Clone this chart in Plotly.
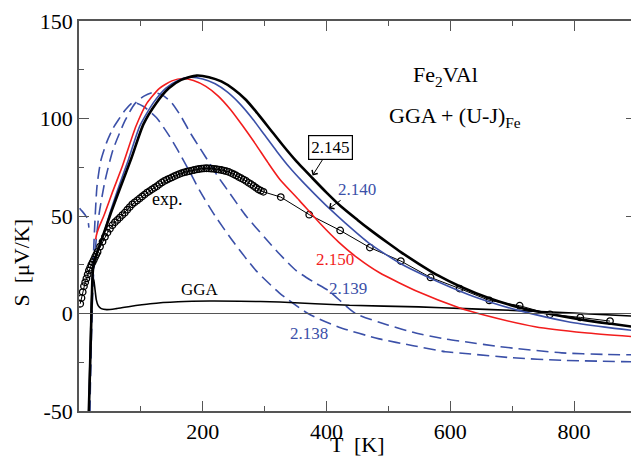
import plotly.graph_objects as go

# ---------------- data ----------------
# black thick, 2.145
T_145 = [14.5, 17, 19.5, 22, 24, 30, 40, 52, 66, 85, 104, 125, 145, 165, 190, 210, 230, 250, 270, 290, 310, 330, 350, 377, 400, 423, 450, 470, 500, 520, 549, 580, 615, 663, 710, 761, 817, 860, 900]
S_145 = [-65, -38, -8, 20, 26, 32, 41, 52, 64, 80, 97, 108, 115.5, 119.8, 122, 121.2, 119, 115, 109.5, 102, 94, 86, 78.5, 69.5, 62, 55, 48, 43, 36, 31.5, 25.5, 19.5, 14, 7.8, 3.2, -0.3, -3.4, -5.3, -7]

# blue solid, 2.140
T_140 = [14.5, 17, 19.5, 22, 24, 30, 40, 50, 62, 80, 98, 120, 140, 160, 179, 200, 220, 240, 260, 280, 300, 320, 340, 360, 380, 404, 430, 469, 520, 565, 629, 670, 710, 790, 850, 900]
S_140 = [-65, -38, -8, 20, 26, 32, 41, 51.5, 63, 79, 96, 108, 115.5, 119.5, 121.2, 120.3, 117.8, 113.5, 107.5, 100, 91.5, 83, 75, 68, 61.5, 54, 46.5, 36, 25.5, 18.5, 9.8, 5.3, 1.6, -4.2, -7, -8.9]

# red solid, 2.150
T_150 = [27, 28, 32, 40, 55, 70, 92, 110, 130, 150, 168, 185, 205, 225, 245, 265, 285, 305, 324, 356, 390, 420, 450, 485, 549, 613, 656, 737, 817, 900]
S_150 = [38, 40, 44, 50, 63, 75.5, 96, 108, 115.5, 119.3, 120.5, 119.5, 116.5, 111.5, 104.5, 96, 87, 77.5, 69, 58, 46, 36.5, 28.5, 21, 11, 3.1, -0.9, -6.8, -9.9, -12]

# blue dashed, 2.139
T_139 = [17, 19.5, 22, 25, 32, 42, 55, 74.5, 90, 105, 120, 135, 150, 165, 180, 195, 211, 225, 240.6, 270, 300, 324, 351, 380, 404, 447, 500, 544, 590, 624, 680, 780, 850, 900]
S_139 = [-60, -20, 10, 28, 50, 68, 84, 99, 107.5, 111.5, 113.4, 112, 108, 101, 92.5, 85, 77, 70, 63, 50, 39, 30.5, 22, 16, 11.5, 0, -6, -10, -13, -14.5, -17, -20.2, -21, -21.2]

# blue dashed, 2.138 (low-T hook and main branch)
T_138a = [1, 5, 10, 14, 16]
S_138a = [54, 52.5, 50.5, 48.5, 44]
T_138 = [16.5, 19, 21.5, 24, 29, 35, 45, 55, 63, 75, 88, 105, 125, 145, 160, 180, 195, 220, 250, 286, 324, 370, 420, 485, 540, 592, 624, 700, 780, 900]
S_138 = [-60, -20, 10, 35, 65, 78, 88, 95, 99, 104.5, 108.3, 106, 100.5, 91.5, 83.5, 72, 63, 50, 36.5, 22, 10.5, 0, -7, -13, -16.5, -19.6, -20.5, -22.7, -24, -24.8]

# GGA
T_gga = [15, 18, 20, 21.5, 22.5, 24, 26, 28, 31, 36, 45, 60, 80, 115, 160, 211, 260, 324, 437, 549, 624, 710, 800, 900]
S_gga = [-60, -20, 5, 15, 18.5, 17, 12, 7, 4, 2.5, 2, 2.5, 3.5, 5, 6, 6.4, 6.3, 5.9, 4.2, 3.4, 2.5, 1.5, 0.2, -1.4]

# experiment
T_exp = [2, 4, 6, 8, 10, 12, 14, 16, 18, 20, 22, 24, 26, 28, 30, 34, 38, 42, 46, 50, 54, 58, 62, 66, 70, 74, 78, 82, 86, 90,
         94, 98, 102, 106, 110, 114, 118, 122, 126, 130, 134, 138, 142, 146, 150, 154, 158, 162, 166, 170, 174, 178, 182,
         186, 190, 194, 198, 202, 206, 210, 214, 218, 222, 226, 230, 234, 238, 242, 246, 250, 254, 258, 262, 266, 270, 274,
         278, 282, 286, 290, 294, 298, 326, 372, 422, 470, 520, 568, 615, 663, 712, 761, 810, 858]
S_exp = [5, 8, 11, 14, 16, 18, 20, 22, 23.5, 25, 26.3, 27.6, 29, 30.3, 31.6, 34.3, 36.8, 39.3, 41.5, 43.5, 45.3, 46.8, 48,
         49.2, 50.5, 51.7, 53.2, 54.6, 56, 57, 58, 59, 60, 61, 62, 62.8, 63.7, 64.5, 65.3, 66.3, 67.2, 68, 68.6, 69.2, 69.8,
         70.4, 71, 71.5, 72, 72.4, 72.7, 73, 73.3, 73.6, 73.9, 74.1, 74.3, 74.4, 74.5, 74.4, 74.3, 74.2, 74, 73.8, 73.6,
         73.3, 73, 72.6, 72, 71.4, 70.8, 70, 69.4, 68.7, 68, 67, 66.3, 65.4, 64.5, 63.6, 63, 62.4,
         59.7, 50.7, 42.6, 33.8, 26.9, 18.5, 12.8, 6.7, 4.0, -0.4, -2.0, -3.9]

x_ticks = [200, 400, 600, 800]
y_ticks = [-50, 0, 50, 100, 150]

BLUE = "#3b50a8"
RED = "#f21d1d"
FONT = "Liberation Serif, Times New Roman, serif"
AXC = "#555555"

fig = go.Figure()

def line(x, y, color, width, dash="solid", smooth=0.6):
    fig.add_trace(go.Scatter(x=x, y=y, mode="lines", line=dict(color=color, width=width, dash=dash,
                                                               shape="spline", smoothing=smooth),
                             hoverinfo="skip", showlegend=False))

DASH = "12px,6px"
line(T_138a, S_138a, BLUE, 1.6, DASH)
line(T_138, S_138, BLUE, 1.6, DASH)
line(T_139, S_139, BLUE, 1.6, DASH)
line(T_gga, S_gga, "black", 1.6)
fig.add_trace(go.Scatter(x=T_exp, y=S_exp, mode="lines+markers",
                         line=dict(color="black", width=1),
                         marker=dict(symbol="circle-open", size=6.5, color="black", line=dict(width=1.3)),
                         hoverinfo="skip", showlegend=False))
line(T_150, S_150, RED, 1.6)
line(T_140, S_140, BLUE, 1.6)
line(T_145, S_145, "black", 2.6)

# zero line
fig.add_shape(type="line", xref="x", yref="y", x0=0, x1=900, y0=0, y1=0,
              line=dict(color=AXC, width=1))

axis_common = dict(showgrid=False, zeroline=False, showline=True, linecolor=AXC, linewidth=1.5,
                   mirror="allticks", ticks="inside", ticklen=10, tickwidth=1.2, tickcolor=AXC,
                   ticklabeloverflow="allow",
                   tickfont=dict(family=FONT, size=22, color="black"))

fig.update_xaxes(range=[0, 900], tickvals=x_ticks, ticktext=[str(v) for v in x_ticks],
                 minor=dict(tickvals=[100, 300, 500, 700], ticks="inside", ticklen=5, tickwidth=1.2, tickcolor=AXC),
                 **axis_common)
fig.update_yaxes(range=[-50, 150], tickvals=y_ticks, ticktext=[str(v) for v in y_ticks],
                 minor=dict(tickvals=[-25, 25, 75, 125], ticks="inside", ticklen=5, tickwidth=1.2, tickcolor=AXC),
                 **axis_common)

def txt(x, y, s, color="black", size=17, **kw):
    fig.add_annotation(x=x, y=y, xref="x", yref="y", text=s, showarrow=False,
                       font=dict(family=FONT, size=size, color=color), **kw)

txt(592, 122, "Fe<sub>2</sub>VAl", size=22)
txt(608, 101, "GGA + (U-J)<sub>Fe</sub>", size=22)
txt(414, 27.8, "2.150", RED)
txt(435, 13, "2.139", BLUE)
txt(372, -10.1, "2.138", BLUE)
txt(143.6, 58.5, "exp.", size=18)
txt(195, 12.4, "GGA", size=17)

fig.add_annotation(x=377.4, y=70.8, xref="x", yref="y", text="2.145", showarrow=True,
                   ax=17.7, ay=-28, arrowhead=4, arrowsize=1.3, arrowwidth=1, arrowcolor="black",
                   bordercolor="black", borderwidth=1.2, borderpad=2, bgcolor="white",
                   font=dict(family=FONT, size=17, color="black"))
fig.add_annotation(x=404, y=53.9, xref="x", yref="y", text="2.140", showarrow=True,
                   ax=27.5, ay=-19, arrowhead=4, arrowsize=1.3, arrowwidth=1, arrowcolor="black",
                   font=dict(family=FONT, size=17, color=BLUE))

# axis titles
fig.add_annotation(x=0.5, y=-0.087, xref="paper", yref="paper", text="T  [K]", showarrow=False,
                   xanchor="center", yanchor="middle",
                   font=dict(family=FONT, size=22, color="black"))
fig.add_annotation(x=-0.104, y=0.381, xref="paper", yref="paper", text="S  [μV/K]", showarrow=False,
                   xanchor="center", yanchor="middle", textangle=-90,
                   font=dict(family=FONT, size=22, color="black"))

# page has an 8px body margin: size the figure so the plot area lands where the reference has it
fig.update_layout(width=631, height=448, margin=dict(l=71, r=1, t=12, b=45),
                  font=dict(family=FONT, color="black"),
                  paper_bgcolor="white", plot_bgcolor="white")

fig.write_html("out.html")
